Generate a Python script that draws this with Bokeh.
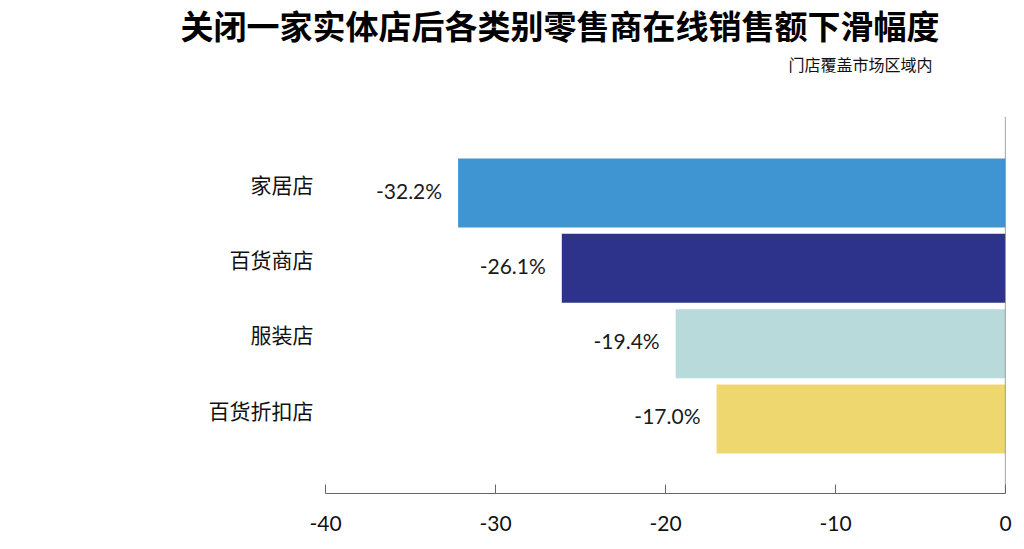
from bokeh.plotting import figure
from bokeh.models import Range1d, FixedTicker, Span, Title, ColumnDataSource
from bokeh.core.properties import value
from bokeh.embed import file_html
from bokeh.resources import INLINE

# ---- data ----
categories = ["家居店", "百货商店", "服装店", "百货折扣店"]
declines = [-32.2, -26.1, -19.4, -17.0]
bar_colors = ["#3F95D2", "#2D338A", "#B9DADB", "#EFD770"]
x_ticks = [-40, -30, -20, -10, 0]
x_tick_labels = ["-40", "-30", "-20", "-10", "0"]
title_text = "关闭一家实体店后各类别零售商在线销售额下滑幅度"
subtitle_text = "门店覆盖市场区域内"

idx = list(range(len(categories)))
labels = [f"{v:.1f}%" for v in declines]
src = ColumnDataSource(dict(y=idx, right=declines, color=bar_colors, label=labels))

p = figure(
    frame_width=680, frame_height=377,
    min_border_left=325, min_border_right=10,
    min_border_top=0, min_border_bottom=48,
    x_range=Range1d(-40, 0),
    y_range=Range1d(start=3.99, end=-1.016),
    output_backend="svg", toolbar_location=None,
)
p.outline_line_color = None
p.xgrid.visible = False
p.ygrid.visible = False
p.background_fill_color = "white"
p.border_fill_color = "white"

p.hbar(y="y", left=0, right="right", height=0.916, color="color",
       line_color=None, source=src)

p.text(x="right", y="y", text="label", source=src, x_offset=-16, y_offset=-3,
       text_align="right", text_baseline="middle",
       text_font=value("Lato"), text_font_size="21px", text_color="#1a1a1a")

# vertical zero line
p.add_layout(Span(location=0, dimension="height", line_color="#666666", line_width=1.2))

# x axis
xa = p.xaxis[0]
xa.ticker = FixedTicker(ticks=x_ticks)
xa.major_label_overrides = {t: s for t, s in zip(x_ticks, x_tick_labels)}
xa.axis_line_color = "#666666"
xa.major_tick_line_color = "#666666"
xa.major_tick_in = 9
xa.major_tick_out = 0
xa.minor_tick_line_color = None
xa.major_label_standoff = 22
xa.major_label_text_font = "Lato"
xa.major_label_text_font_size = "21px"
xa.major_label_text_color = "#111111"

# y axis (categories); labels sit slightly above each bar's centre
label_lift = 0.125
cat_ticks = [i - label_lift for i in idx]
ya = p.yaxis[0]
ya.ticker = FixedTicker(ticks=cat_ticks)
ya.major_label_overrides = {t: c for t, c in zip(cat_ticks, categories)}
ya.axis_line_color = None
ya.major_tick_line_color = None
ya.minor_tick_line_color = None
ya.major_tick_in = 0
ya.major_tick_out = 0
ya.major_label_standoff = 12
ya.major_label_text_font = "Noto Sans CJK SC"
ya.major_label_text_font_size = "21px"
ya.major_label_text_color = "#111111"

# titles (first added sits closest to the frame)
p.add_layout(Title(text=" ", text_font_size="1px", standoff=35), "above")
p.add_layout(Title(text=subtitle_text, align="right", offset=73, standoff=2,
                   vertical_align="top",
                   text_font="Noto Sans CJK SC", text_font_size="16px",
                   text_font_style="normal", text_color="#111111"), "above")
p.add_layout(Title(text=title_text, align="left", offset=-145, standoff=0,
                   vertical_align="top",
                   text_font="Noto Sans CJK SC", text_font_size="33px",
                   text_font_style="bold", text_color="#000000"), "above")

open("out.html", "w").write(file_html(p, INLINE))
